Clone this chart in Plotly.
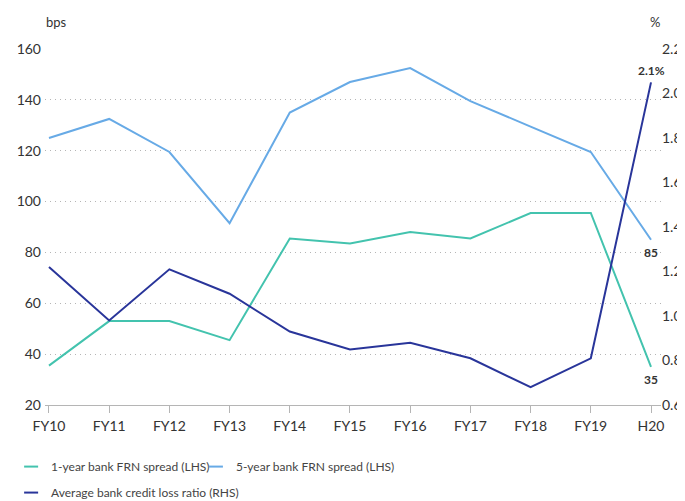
import plotly.graph_objects as go

# categories and series
periods = ["FY10", "FY11", "FY12", "FY13", "FY14", "FY15", "FY16", "FY17", "FY18", "FY19", "H20"]
spread_1y = [35.5, 53, 53, 45.5, 85.5, 83.5, 88, 85.5, 95.5, 95.5, 35]
spread_5y = [125, 132.5, 119.5, 91.5, 135, 147, 152.5, 139.5, 129.5, 119.5, 85]
loss_ratio = [1.22, 0.98, 1.21, 1.10, 0.93, 0.85, 0.88, 0.81, 0.68, 0.81, 2.05]

# end-of-line value labels
label_1y = "35"
label_5y = "85"
label_loss = "2.1%"

TEAL = "#43C3AE"
LIGHT_BLUE = "#67AAE6"
NAVY = "#29359A"
FONT = "Lato"
TXT = "#333333"
GRID = "#B5B5B5"

fig = go.Figure()

# the three lines
fig.add_trace(go.Scatter(x=periods, y=spread_1y, mode="lines",
                         line=dict(color=TEAL, width=2), showlegend=False))
fig.add_trace(go.Scatter(x=periods, y=spread_5y, mode="lines",
                         line=dict(color=LIGHT_BLUE, width=2), showlegend=False))
fig.add_trace(go.Scatter(x=periods, y=loss_ratio, yaxis="y2", mode="lines",
                         line=dict(color=NAVY, width=2), showlegend=False))

# legend entries with short dash swatches, one legend box per entry
legend_names = ["1-year bank FRN spread (LHS)", "5-year bank FRN spread (LHS)",
                "Average bank credit loss ratio (RHS)"]
for name, col, lg in zip(legend_names, [TEAL, LIGHT_BLUE, NAVY], ["legend", "legend2", "legend3"]):
    fig.add_trace(go.Scatter(
        x=[None], y=[None], mode="markers", name=name, legend=lg,
        marker=dict(symbol="line-ew", size=10, color=col, line=dict(width=2, color=col))))

lbl_font = dict(family=FONT, size=12, color=TXT, weight="bold")
leg_font = dict(family=FONT, size=12, color="#444444")
clear = "rgba(0,0,0,0)"
fig.update_layout(
    width=677, height=493,
    margin=dict(l=37, r=24, t=41, b=96, autoexpand=False),
    plot_bgcolor="white", paper_bgcolor="white",
    font=dict(family=FONT, size=14, color=TXT),
    legend=dict(orientation="h", x=-0.055, xanchor="left", y=-0.173, yanchor="middle",
                font=leg_font, bgcolor=clear),
    legend2=dict(orientation="h", x=0.245, xanchor="left", y=-0.173, yanchor="middle",
                 font=leg_font, bgcolor=clear),
    legend3=dict(orientation="h", x=-0.055, xanchor="left", y=-0.246, yanchor="middle",
                 font=leg_font, bgcolor=clear),
    annotations=[
        dict(text="bps", xref="paper", yref="paper", x=-0.001, y=1.075,
             xanchor="left", yanchor="middle", showarrow=False,
             font=dict(family=FONT, size=13, color=TXT)),
        dict(text="%", xref="paper", yref="paper", x=0.99, y=1.075,
             xanchor="center", yanchor="middle", showarrow=False,
             font=dict(family=FONT, size=13, color=TXT)),
        dict(text=label_1y, x=periods[-1], y=spread_1y[-1], xref="x", yref="y",
             yshift=-13, showarrow=False, font=lbl_font),
        dict(text=label_5y, x=periods[-1], y=spread_5y[-1], xref="x", yref="y",
             yshift=-13, showarrow=False, font=lbl_font),
        dict(text=label_loss, x=periods[-1], y=loss_ratio[-1], xref="x", yref="y2",
             yshift=12, showarrow=False, font=lbl_font),
    ],
)

fig.update_xaxes(
    range=[-0.066, 10.166], showgrid=False, showline=True, linecolor=GRID, linewidth=1,
    ticks="outside", ticklen=7, tickcolor=GRID, tickfont=dict(size=14, color=TXT),
    ticklabelstandoff=1, zeroline=False)

fig.update_layout(
    yaxis=dict(range=[20, 160], dtick=20, showgrid=True, gridcolor=GRID, griddash="1px,4px",
               gridwidth=1, zeroline=False, showline=False, ticks="", ticklabelstandoff=3,
               tickfont=dict(size=14, color=TXT)),
    yaxis2=dict(range=[0.6, 2.2], dtick=0.2, tickformat=".1f", overlaying="y", side="right",
                showgrid=False, zeroline=False, showline=False, ticks="",
                tickfont=dict(size=14, color=TXT)),
)

fig.write_html("out.html")
